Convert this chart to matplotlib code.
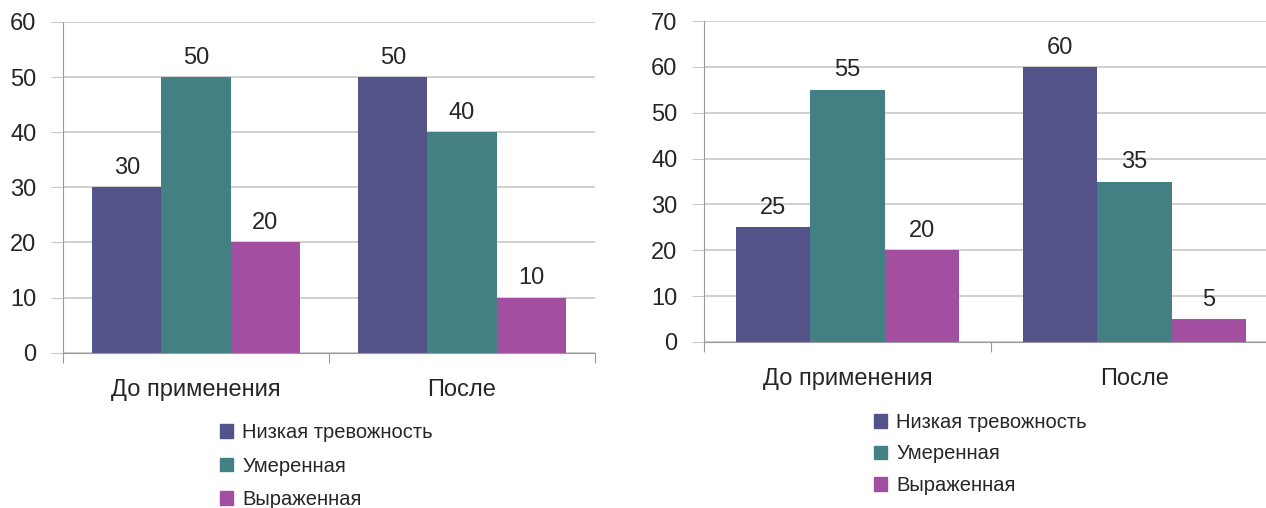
import matplotlib.pyplot as plt
from matplotlib.patches import Patch

plt.rcParams['font.family'] = ['Liberation Sans', 'DejaVu Sans']

# categories and series
categories = ["До применения", "После"]
series_names = ["Низкая тревожность", "Умеренная", "Выраженная"]
left_values = [[30, 50], [50, 40], [20, 10]]
right_values = [[25, 60], [55, 35], [20, 5]]
left_ymax = 60
right_ymax = 70

colors = ["#535389", "#438083", "#A24FA2"]
text_col = "#262626"
grid_col = "#c8c8c8"


def draw_chart(ax, values, ymax):
    w = 0.26
    offs = [-w, 0, w]
    for i, vals in enumerate(values):
        xs = [c + offs[i] for c in range(len(categories))]
        bars = ax.bar(xs, vals, width=w, color=colors[i], zorder=3)
        for b, v in zip(bars, vals):
            ax.annotate(str(v), (b.get_x() + b.get_width() / 2, v),
                        xytext=(0, 6), textcoords='offset points',
                        ha='center', va='bottom', fontsize=17, color=text_col)
    ax.set_xlim(-0.5, len(categories) - 0.5)
    ax.set_ylim(0, ymax)
    ax.set_yticks(range(0, ymax + 1, 10))
    ax.yaxis.grid(True, color=grid_col, linewidth=1.2, zorder=0)
    ax.set_xticks([c - 0.5 for c in range(len(categories) + 1)])
    ax.set_xticklabels([])
    ax.set_xticks(range(len(categories)), minor=True)
    ax.set_xticklabels(categories, minor=True)
    ax.tick_params(axis='x', which='minor', length=0, pad=19, labelsize=17,
                   labelcolor=text_col)
    ax.tick_params(axis='x', which='major', length=7, color="#9a9a9a")
    ax.tick_params(axis='y', length=9, color=grid_col, pad=10, labelsize=17,
                   labelcolor=text_col)
    for s in ['top', 'right']:
        ax.spines[s].set_visible(False)
    ax.spines['left'].set_color("#9a9a9a")
    ax.spines['bottom'].set_color("#9a9a9a")
    ax.spines['left'].set_zorder(4)
    ax.spines['bottom'].set_zorder(4)


def add_legend(fig, x, y, spacing):
    handles = [Patch(color=c) for c in colors]
    fig.legend(handles, series_names, loc='upper left', bbox_to_anchor=(x, y),
               bbox_transform=fig.transFigure, frameon=False, fontsize=14.5,
               handlelength=0.65, handleheight=0.65, handletextpad=0.45,
               labelspacing=spacing, borderpad=0, borderaxespad=0,
               labelcolor=text_col)


fig = plt.figure(figsize=(12.66, 5.08), dpi=100)

ax1 = fig.add_axes([63 / 1266, 1 - 352.7 / 508, 532 / 1266, 330.7 / 508])
draw_chart(ax1, left_values, left_ymax)
add_legend(fig, 220 / 1266, 1 - 423 / 508, 0.72)

ax2 = fig.add_axes([704 / 1266, 1 - 342 / 508, 574 / 1266, 321 / 508])
draw_chart(ax2, right_values, right_ymax)
add_legend(fig, 874 / 1266, 1 - 413 / 508, 0.62)

fig.savefig("out.png", dpi=100)
